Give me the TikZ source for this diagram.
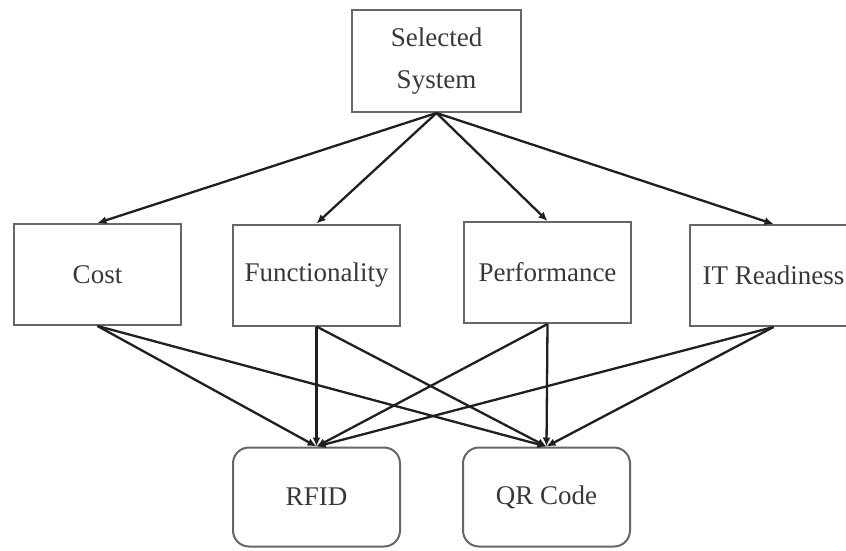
\documentclass[tikz,border=0pt]{standalone}
\usepackage{fontspec}
\setmainfont{Liberation Serif}
\usetikzlibrary{arrows.meta}
\def\drawarr{\draw[-{Latex[length=9pt,width=8pt]}, line width=2.3pt, color=black!88]}
\def\critnode{\node[draw=black!60, line width=2pt, minimum width=167pt, minimum height=101pt, inner sep=0pt]}
\def\optnode{\node[draw=black!60, line width=2pt, rounded corners=16pt, minimum width=167pt, minimum height=99pt, inner sep=0pt]}

\begin{document}
\begin{tikzpicture}[x=1pt,y=-1pt,font=\fontsize{27}{42}\selectfont,text=black!78]
\useasboundingbox (0,0) rectangle (846,550);

% -------- goal ---------
\node[draw=black!60, line width=2pt, minimum width=169pt, minimum height=102pt, inner sep=0pt, align=center] (goal) at (436.5,61) {Selected\\System};

% -------- criteria ---------
\critnode (cost) at (97.5,274.5) {Cost};
\critnode (func) at (316.5,275) {Functionality};
\critnode (perf) at (547.5,272.5) {Performance};
\critnode (itr) at (773.5,275.5) {IT Readiness}; % right edge runs off the page

% -------- alternatives ---------
\optnode (rfid) at (316.5,497) {RFID};
\optnode (qr) at (546.5,497) {QR Code};

% goal to criteria
\drawarr (goal.south) to (cost.north);
\drawarr (goal.south) to (func.north);
\drawarr (goal.south) to (perf.north);
\drawarr (goal.south) to (itr.north);

% criteria to alternatives
\drawarr (cost.south) to (rfid.north);
\drawarr (cost.south) to (qr.north);
\drawarr (func.south) to (rfid.north);
\drawarr (func.south) to (qr.north);
\drawarr (perf.south) to (rfid.north);
\drawarr (perf.south) to (qr.north);
\drawarr (itr.south) to (rfid.north);
\drawarr (itr.south) to (qr.north);
\end{tikzpicture}
\end{document}
